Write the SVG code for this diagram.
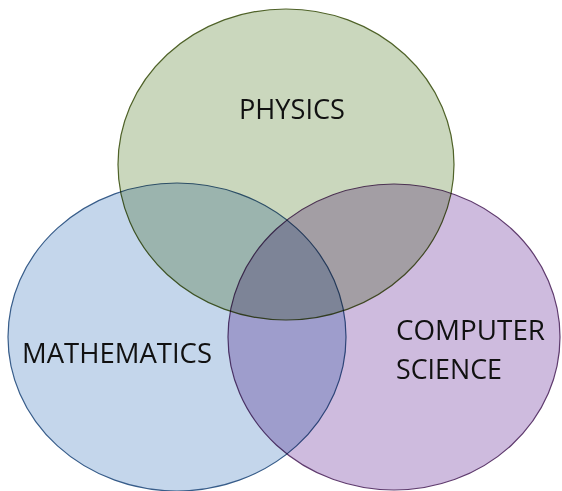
<svg xmlns="http://www.w3.org/2000/svg" width="562" height="491" viewBox="0 0 562 491">
<style>
.c{mix-blend-mode:multiply;stroke-width:1.2}
.t{font-family:"Open Sans","Liberation Sans",sans-serif;font-size:27px;fill:#111}
</style>
<rect width="562" height="491" fill="#fff"/>
<g id="physics">
<ellipse class="c" cx="286" cy="164.5" rx="168" ry="155.5" fill="#cad7bd" stroke="#4f6228"/>
</g>
<g id="mathematics">
<ellipse class="c" cx="177" cy="337" rx="169" ry="154" fill="#c4d6eb" stroke="#385d8a"/>
</g>
<g id="computer-science">
<ellipse class="c" cx="394" cy="337" rx="166" ry="153" fill="#cebbde" stroke="#5f3b6e"/>
</g>
<g id="labels">
<text class="t" x="239" y="119" textLength="106" lengthAdjust="spacingAndGlyphs">PHYSICS</text>
<text class="t" x="22" y="363" textLength="190" lengthAdjust="spacingAndGlyphs">MATHEMATICS</text>
<text class="t" x="396" y="340" textLength="149" lengthAdjust="spacingAndGlyphs">COMPUTER</text>
<text class="t" x="396" y="379" textLength="106" lengthAdjust="spacingAndGlyphs">SCIENCE</text>
</g>
</svg>
